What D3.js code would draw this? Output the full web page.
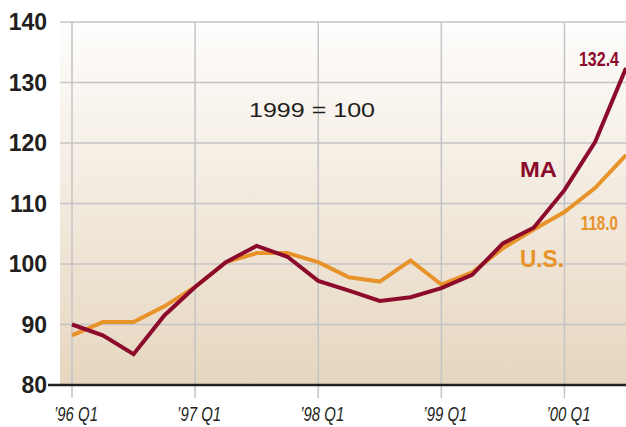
<!DOCTYPE html>
<html><head><meta charset="utf-8">
<script src="https://cdn.jsdelivr.net/npm/d3@7"></script>
<style>body{margin:0;background:#fff}svg{display:block}</style>
</head><body>
<svg id="c" width="626" height="427"></svg>
<script>
const quarters = ["96Q1","96Q2","96Q3","96Q4","97Q1","97Q2","97Q3","97Q4","98Q1","98Q2","98Q3","98Q4","99Q1","99Q2","99Q3","99Q4","00Q1","00Q2","00Q3"];
const maValues = [90.0,88.2,85.1,91.5,96.2,100.3,103.0,101.2,97.2,95.6,93.9,94.5,96.0,98.2,103.4,106.0,112.2,120.2,132.4];
const usValues = [88.2,90.4,90.4,93.0,96.2,100.3,101.8,101.8,100.3,97.8,97.1,100.6,96.6,98.6,102.6,105.7,108.6,112.6,118.0];
const yTicks = [80,90,100,110,120,130,140];
const xTickLabels = ["\u201996 Q1","\u201997 Q1","\u201998 Q1","\u201999 Q1","\u201900 Q1"];
const xTickIndex = [0,4,8,12,16];

const svg = d3.select("#c");
const plotLeft = 60, plotRight = 626, plotTop = 22, plotBottom = 385;

const x = d3.scaleLinear().domain([0, 18]).range([72, 626]);
const y = d3.scaleLinear().domain([80, 140]).range([plotBottom, plotTop]);

const defs = svg.append("defs");
const grad = defs.append("linearGradient").attr("id","bg").attr("x1",0).attr("y1",0).attr("x2",0).attr("y2",1);
grad.append("stop").attr("offset","0%").attr("stop-color","#fefdfc");
grad.append("stop").attr("offset","100%").attr("stop-color","#e6d6bf");

svg.append("rect").attr("x",plotLeft).attr("y",plotTop).attr("width",plotRight-plotLeft).attr("height",plotBottom-plotTop).attr("fill","url(#bg)");

svg.append("g").selectAll("line").data(yTicks.filter(d=>d>80)).join("line")
  .attr("x1",plotLeft).attr("x2",plotRight).attr("y1",d=>y(d)).attr("y2",d=>y(d))
  .attr("stroke","#c4c4c6").attr("stroke-width",1.5);

svg.append("g").selectAll("line").data(xTickIndex).join("line")
  .attr("x1",d=>x(d)).attr("x2",d=>x(d)).attr("y1",plotTop).attr("y2",398)
  .attr("stroke","#c4c4c6").attr("stroke-width",1.5);

svg.append("line").attr("x1",48).attr("x2",626).attr("y1",y(80)).attr("y2",y(80))
  .attr("stroke","#231f20").attr("stroke-width",2.5);

svg.append("g").selectAll("text").data(yTicks).join("text")
  .attr("x",47).attr("y",d=>y(d)+8).attr("text-anchor","end")
  .attr("font-family","Liberation Sans, Arial, sans-serif").attr("font-weight","bold").attr("font-size",23)
  .attr("fill","#231f20").text(d=>d);

svg.append("g").selectAll("text").data(xTickIndex).join("text")
  .attr("x",d=>x(d)-18).attr("y",421)
  .attr("font-family","Liberation Sans, Arial, sans-serif").attr("font-style","italic")
  .attr("font-size",20).attr("fill","#231f20")
  .attr("textLength",44).attr("lengthAdjust","spacingAndGlyphs")
  .text((d,i)=>xTickLabels[i]);

const line = d3.line().x((d,i)=>x(i)).y(d=>y(d));
svg.append("path").datum(usValues).attr("d",line).attr("fill","none").attr("stroke","#e8922a").attr("stroke-width",4).attr("stroke-linejoin","miter");
svg.append("path").datum(maValues).attr("d",line).attr("fill","none").attr("stroke","#8c0a2b").attr("stroke-width",4).attr("stroke-linejoin","miter");

svg.append("text").attr("x",249).attr("y",117)
  .attr("font-family","Liberation Sans, Arial, sans-serif").attr("font-size",20.5).attr("fill","#231f20")
  .attr("textLength",126).attr("lengthAdjust","spacingAndGlyphs").text("1999 = 100");

svg.append("text").attr("transform","translate(619,66) scale(0.8,1)").attr("text-anchor","end")
  .attr("font-family","Liberation Sans, Arial, sans-serif").attr("font-weight","bold").attr("font-size",20).attr("fill","#8c0a2b")
  .text(maValues[maValues.length-1].toFixed(1));
svg.append("text").attr("transform","translate(618,230) scale(0.76,1)").attr("text-anchor","end")
  .attr("font-family","Liberation Sans, Arial, sans-serif").attr("font-weight","bold").attr("font-size",20).attr("fill","#e8922a")
  .text(usValues[usValues.length-1].toFixed(1));
svg.append("text").attr("x",520).attr("y",177).attr("font-family","Liberation Sans, Arial, sans-serif").attr("font-weight","bold").attr("font-size",22.5).attr("fill","#8c0a2b")
  .attr("textLength",37).attr("lengthAdjust","spacingAndGlyphs").text("MA");
svg.append("text").attr("x",520).attr("y",267).attr("font-family","Liberation Sans, Arial, sans-serif").attr("font-weight","bold").attr("font-size",23).attr("fill","#e8922a")
  .attr("textLength",44).attr("lengthAdjust","spacingAndGlyphs").text("U.S.");
</script>
</body></html>
